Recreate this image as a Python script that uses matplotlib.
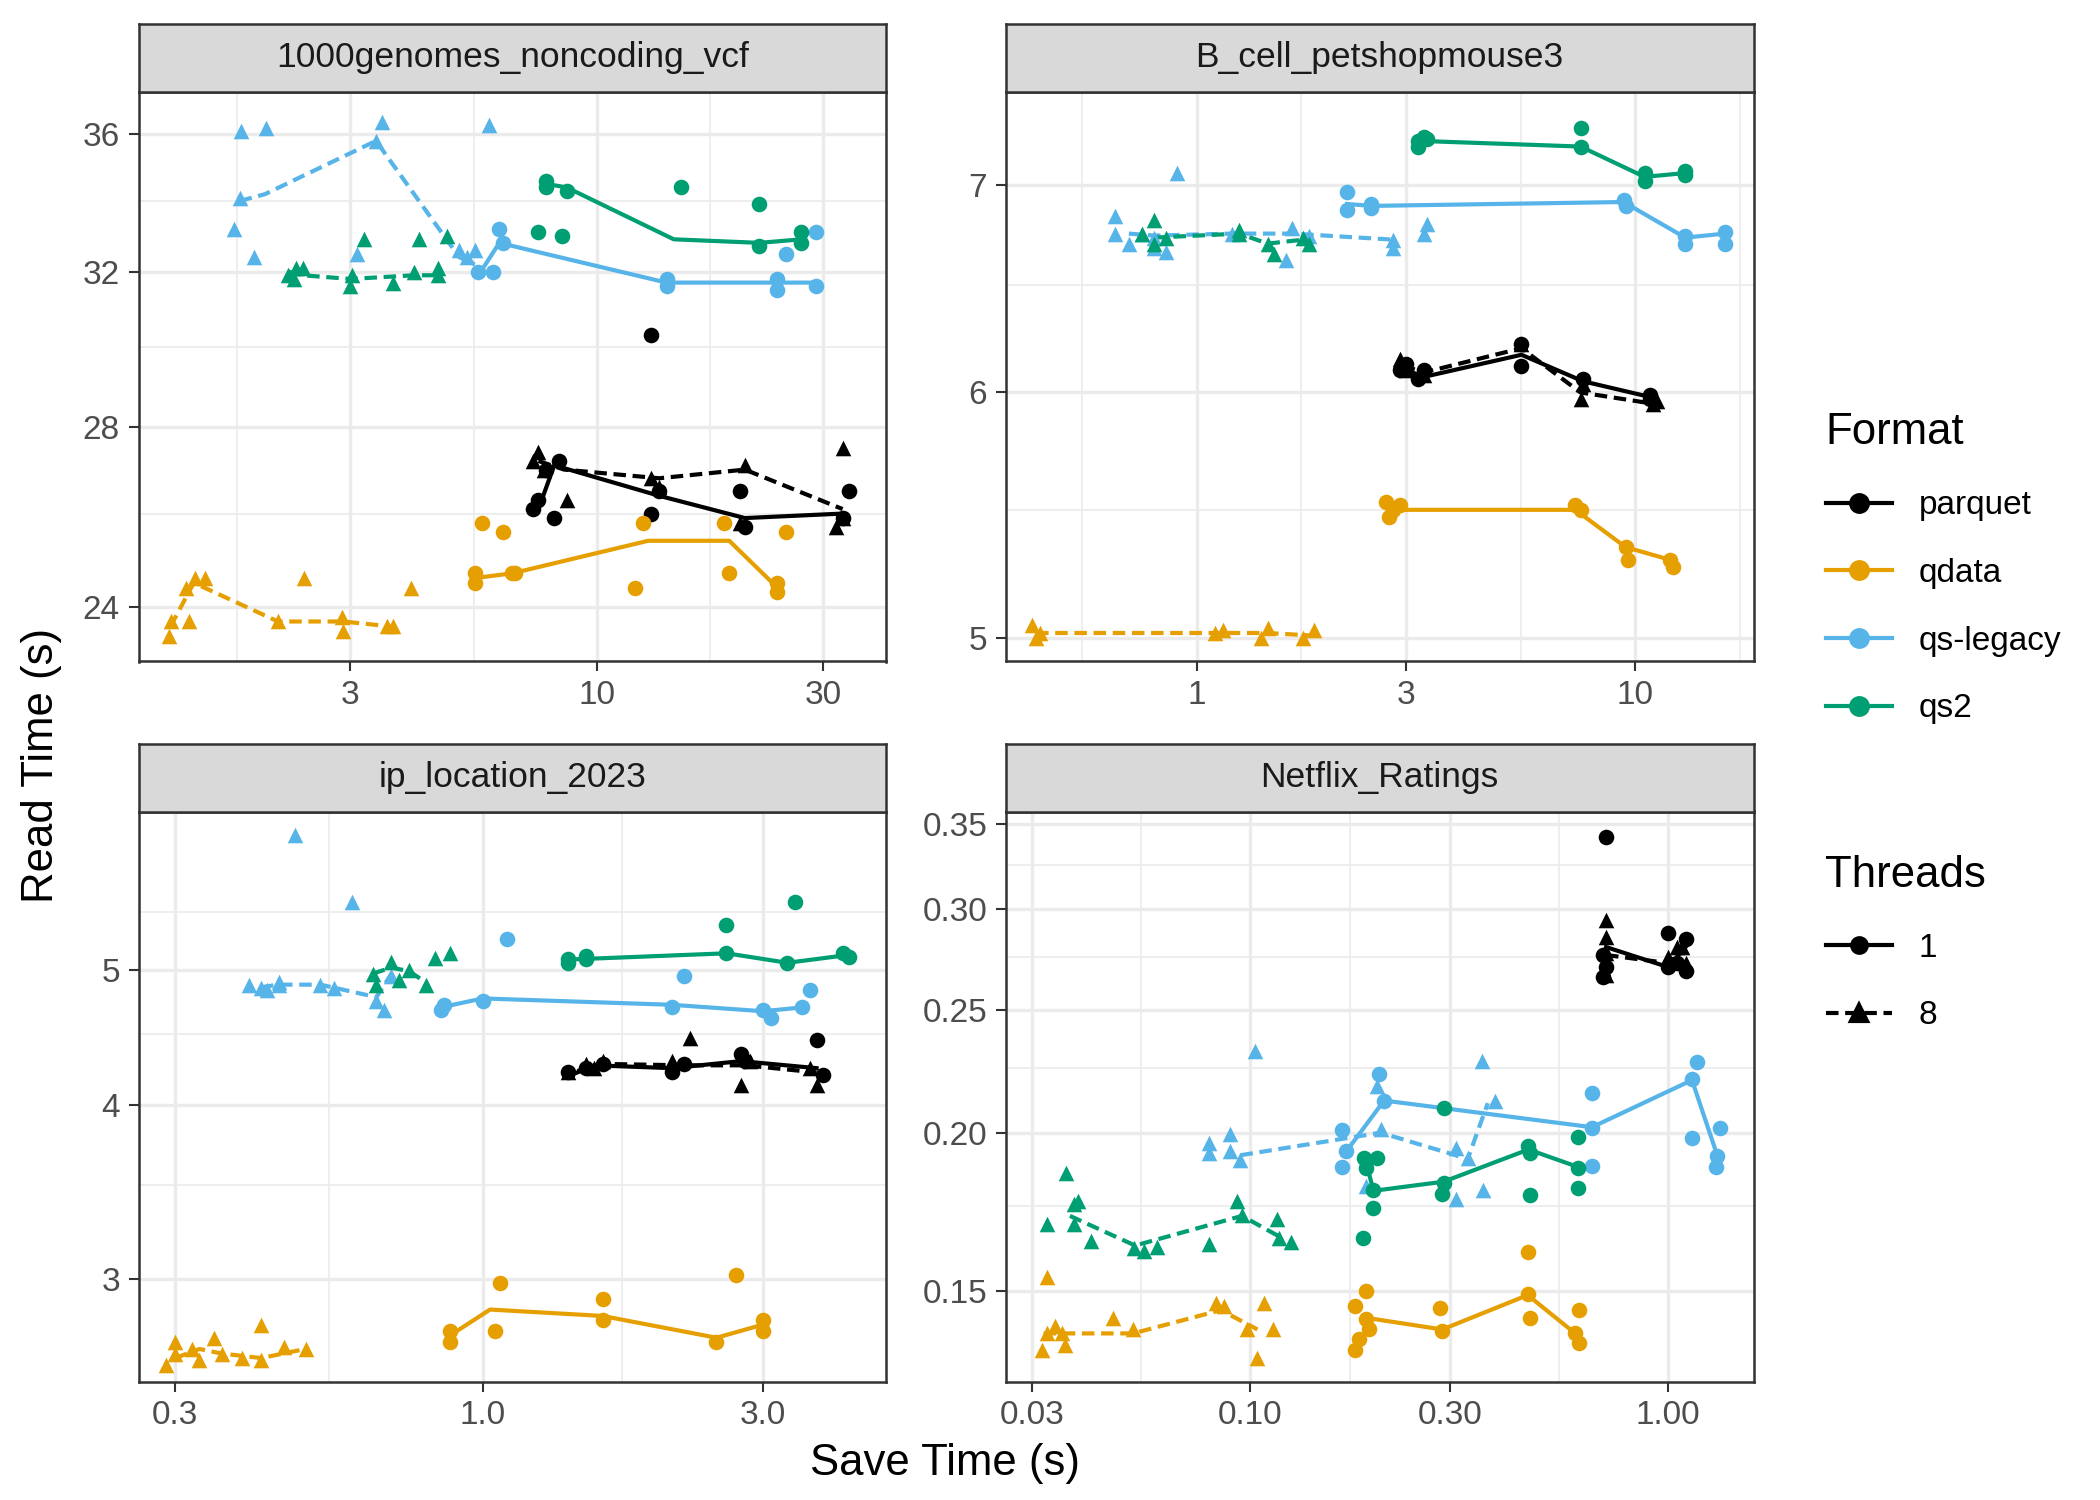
import numpy as np
import matplotlib.pyplot as plt
from matplotlib.lines import Line2D

plt.rcParams['font.family'] = ['Liberation Sans', 'DejaVu Sans']

formats = ['parquet', 'qdata', 'qs-legacy', 'qs2']
colors = {'parquet': '#000000', 'qdata': '#E69F00', 'qs-legacy': '#56B4E9', 'qs2': '#009E73'}
threads = [1, 8]
titles = ['1000genomes_noncoding_vcf', 'B_cell_petshopmouse3', 'ip_location_2023', 'Netflix_Ratings']

# ---------- panel 1: 1000genomes_noncoding_vcf ----------
p1_points = {
    ('qdata', 8): [(1.24,23.4),(1.25,23.7),(1.37,23.7),(1.35,24.4),(1.41,24.6),(1.48,24.6),(2.11,23.7),(2.39,24.6),(2.88,23.8),(2.9,23.5),(3.59,23.6),(3.7,23.6),(4.03,24.4)],
    ('qdata', 1): [(5.5,24.5),(5.5,24.7),(5.7,25.8),(6.3,25.6),(6.6,24.7),(6.7,24.7),(12,24.4),(12.5,25.8),(18.5,25.8),(19,24.7),(24,24.5),(24,24.3),(25,25.6)],
    ('qs-legacy', 8): [(1.7,33.2),(1.75,34.1),(1.76,36.1),(1.88,32.4),(1.99,36.2),(3.1,32.5),(3.4,35.8),(3.5,36.4),(5.3,32.4),(5.5,32.6),(5.9,36.3),(5.1,32.6)],
    ('qs-legacy', 1): [(5.6,32),(6.0,32),(6.2,33.2),(6.3,32.8),(14,31.6),(14,31.8),(24,31.8),(24,31.5),(25,32.5),(29,31.6),(29,33.1)],
    ('qs2', 8): [(2.22,31.9),(2.28,31.8),(2.3,32.1),(2.38,32.1),(3.0,31.6),(3.03,31.9),(3.2,32.9),(3.7,31.7),(4.1,32.0),(4.2,32.9),(4.6,31.9),(4.8,33),(4.6,32.1)],
    ('qs2', 1): [(7.5,33.1),(7.8,34.6),(7.8,34.4),(8.4,33),(8.6,34.3),(15,34.4),(22,33.9),(22,32.7),(27,33.1),(27,32.8)],
    ('parquet', 1): [(7.3,26.1),(7.5,26.3),(7.8,27),(8.1,25.9),(8.3,27.2),(13,30.3),(13,26),(13.5,26.5),(20,26.5),(20.5,25.7),(34,26.5),(33,25.9)],
    ('parquet', 8): [(7.3,27.2),(7.5,27.4),(7.7,27),(8.6,26.3),(13,26.8),(13.5,26.6),(20.5,27.1),(20,25.8),(32,25.7),(33,27.5),(33,25.9)],
}
p1_lines = {
    ('qdata', 8): [(1.25,23.6),(1.4,24.5),(2.11,23.7),(2.9,23.7),(3.65,23.6)],
    ('qdata', 1): [(5.5,24.6),(6.6,24.7),(12.8,25.4),(19,25.4),(24,24.4)],
    ('qs-legacy', 8): [(1.75,34),(1.98,34.2),(3.4,35.8),(5.1,32.4),(5.5,32.2)],
    ('qs-legacy', 1): [(5.6,31.9),(6.2,32.8),(14,31.7),(24,31.7),(29,31.7)],
    ('qs2', 8): [(2.22,32),(2.38,31.9),(3.0,31.8),(4.1,31.9),(4.6,31.9)],
    ('qs2', 1): [(7.8,34.5),(8.6,34.4),(14.5,32.9),(22,32.8),(27,32.9)],
    ('parquet', 1): [(7.5,26.1),(8.1,27.1),(13.5,26.4),(20.5,25.9),(33,26)],
    ('parquet', 8): [(7.5,27.2),(8.5,27),(13.5,26.8),(20.5,27),(33,26.1)],
}
p1_xticks = [3, 10, 30]
p1_xminor = [1.73, 5.48, 17.3]
p1_yticks = [24, 28, 32, 36]
p1_yminor = [22, 26, 30, 34]
p1_xlim = (1.07, 40.8)
p1_ylim = (22.9, 37.35)

# ---------- panel 2: B_cell_petshopmouse3 ----------
p2_points = {
    ('qdata', 8): [(0.42,5.05),(0.43,5.0),(0.44,5.02),(1.1,5.02),(1.15,5.03),(1.4,5.0),(1.45,5.04),(1.75,5.0),(1.85,5.03)],
    ('qdata', 1): [(2.7,5.53),(2.75,5.47),(2.8,5.5),(2.9,5.52),(7.3,5.52),(7.5,5.5),(9.5,5.35),(9.6,5.3),(12,5.3),(12.2,5.27)],
    ('qs-legacy', 8): [(0.65,6.84),(0.65,6.75),(0.7,6.7),(0.75,6.75),(0.8,6.68),(0.8,6.73),(0.85,6.66),(0.9,7.06),(1.2,6.75),(1.6,6.62),(1.65,6.78),(1.8,6.74),(2.8,6.72),(2.8,6.68),(3.3,6.75),(3.35,6.8)],
    ('qs-legacy', 1): [(2.2,6.87),(2.2,6.96),(2.5,6.9),(2.5,6.88),(9.4,6.92),(9.5,6.89),(13,6.74),(13,6.7),(16,6.76),(16,6.7)],
    ('qs2', 8): [(0.75,6.75),(0.8,6.82),(0.8,6.7),(0.85,6.73),(1.25,6.77),(1.25,6.75),(1.45,6.7),(1.5,6.65),(1.75,6.73),(1.8,6.7)],
    ('qs2', 1): [(3.2,7.2),(3.2,7.23),(3.3,7.25),(3.35,7.24),(7.5,7.3),(7.5,7.2),(10.5,7.02),(10.5,7.06),(13,7.05),(13,7.07)],
    ('parquet', 1): [(2.9,6.1),(3.0,6.13),(3.2,6.06),(3.3,6.1),(5.5,6.22),(5.5,6.12),(7.6,6.06),(10.8,5.97),(10.8,5.99)],
    ('parquet', 8): [(2.9,6.15),(3.0,6.1),(3.3,6.08),(5.5,6.22),(7.5,5.97),(7.6,6.04),(11,5.95),(11.2,5.96)],
}
p2_lines = {
    ('qdata', 8): [(0.43,5.02),(1.1,5.02),(1.45,5.02),(1.85,5.01)],
    ('qdata', 1): [(2.8,5.5),(7.3,5.5),(9.5,5.35),(12,5.3)],
    ('qs-legacy', 8): [(0.7,6.75),(0.8,6.74),(1.2,6.75),(1.65,6.75),(2.8,6.72)],
    ('qs-legacy', 1): [(2.2,6.9),(2.5,6.89),(9.4,6.91),(13,6.73),(16,6.75)],
    ('qs2', 8): [(0.8,6.73),(1.25,6.75),(1.45,6.7),(1.75,6.72)],
    ('qs2', 1): [(3.25,7.23),(7.5,7.2),(10.5,7.04),(13,7.06)],
    ('parquet', 1): [(3,6.1),(3.3,6.07),(5.5,6.17),(7.6,6.05),(10.8,5.98)],
    ('parquet', 8): [(2.95,6.12),(3.3,6.09),(5.5,6.2),(7.5,6.0),(11,5.95)],
}
p2_xticks = [1, 3, 10]
p2_xminor = [0.548, 1.73, 5.48, 17.3]
p2_yticks = [5, 6, 7]
p2_yminor = [4.5, 5.5, 6.5, 7.5]
p2_xlim = (0.367, 18.6)
p2_ylim = (4.915, 7.5)

# ---------- panel 3: ip_location_2023 ----------
p3_points = {
    ('qdata', 8): [(0.29,2.6),(0.3,2.65),(0.3,2.7),(0.32,2.67),(0.33,2.62),(0.35,2.72),(0.36,2.65),(0.39,2.63),(0.42,2.62),(0.42,2.78),(0.46,2.68),(0.5,2.67)],
    ('qdata', 1): [(0.88,2.7),(0.88,2.75),(1.05,2.75),(1.07,2.98),(1.6,2.8),(1.6,2.9),(2.5,2.7),(2.7,3.02),(3.0,2.8),(3.0,2.75)],
    ('qs-legacy', 8): [(0.4,4.88),(0.42,4.85),(0.43,4.84),(0.45,4.88),(0.45,4.9),(0.48,6.25),(0.53,4.88),(0.56,4.85),(0.6,5.6),(0.66,4.75),(0.68,4.68),(0.7,4.95)],
    ('qs-legacy', 1): [(0.85,4.68),(0.86,4.72),(1.0,4.75),(1.1,5.26),(2.1,4.7),(2.2,4.95),(3.0,4.68),(3.1,4.62),(3.5,4.7),(3.6,4.84)],
    ('qs2', 8): [(0.65,4.97),(0.66,4.88),(0.7,5.07),(0.72,4.92),(0.75,5.0),(0.8,4.88),(0.83,5.1),(0.88,5.14)],
    ('qs2', 1): [(1.4,5.09),(1.4,5.06),(1.5,5.09),(1.5,5.12),(2.6,5.14),(2.6,5.39),(3.3,5.06),(3.4,5.6),(4.1,5.14),(4.2,5.11)],
    ('parquet', 1): [(1.4,4.22),(1.5,4.25),(1.6,4.28),(2.1,4.22),(2.2,4.28),(2.75,4.35),(2.8,4.3),(3.7,4.45),(3.8,4.2)],
    ('parquet', 8): [(1.4,4.22),(1.5,4.28),(1.55,4.25),(1.6,4.3),(2.1,4.3),(2.25,4.47),(2.75,4.13),(2.85,4.3),(3.6,4.25),(3.7,4.13)],
}
p3_lines = {
    ('qdata', 8): [(0.3,2.63),(0.33,2.67),(0.36,2.65),(0.42,2.63),(0.5,2.67)],
    ('qdata', 1): [(0.88,2.73),(1.03,2.85),(1.6,2.82),(2.5,2.72),(3.0,2.78)],
    ('qs-legacy', 8): [(0.42,4.86),(0.45,4.88),(0.53,4.88),(0.66,4.78),(0.7,4.97)],
    ('qs-legacy', 1): [(0.85,4.7),(1.0,4.77),(2.1,4.72),(3.0,4.67),(3.5,4.7)],
    ('qs2', 8): [(0.65,4.97),(0.7,5.02),(0.75,4.99),(0.8,4.9)],
    ('qs2', 1): [(1.45,5.09),(2.6,5.14),(3.3,5.06),(4.1,5.12)],
    ('parquet', 1): [(1.45,4.22),(1.55,4.27),(2.1,4.25),(2.75,4.3),(3.7,4.25)],
    ('parquet', 8): [(1.45,4.23),(1.6,4.28),(2.2,4.27),(2.8,4.27),(3.7,4.22)],
}
p3_xticks = [0.3, 1.0, 3.0]
p3_xminor = [0.173, 0.548, 1.73, 5.48]
p3_yticks = [3, 4, 5]
p3_yminor = [2.5, 3.5, 4.5, 5.5, 6.5]
p3_xlim = (0.26, 4.86)
p3_ylim = (2.53, 6.5)

# ---------- panel 4: Netflix_Ratings ----------
p4_points = {
    ('qdata', 8): [(0.0318,0.135),(0.0326,0.139),(0.0341,0.141),(0.036,0.136),(0.0355,0.139),(0.0326,0.154),(0.047,0.143),(0.0524,0.14),(0.0828,0.147),(0.0865,0.146),(0.098,0.14),(0.104,0.133),(0.108,0.147),(0.113,0.14)],
    ('qdata', 1): [(0.178,0.135),(0.182,0.1375),(0.178,0.146),(0.189,0.150),(0.189,0.1426),(0.192,0.140),(0.284,0.1456),(0.288,0.1396),(0.461,0.161),(0.461,0.1494),(0.467,0.1429),(0.61,0.145),(0.599,0.139),(0.613,0.1367)],
    ('qs-legacy', 8): [(0.0798,0.1964),(0.0798,0.1926),(0.0893,0.1997),(0.0893,0.1934),(0.0947,0.1903),(0.1027,0.2318),(0.201,0.2175),(0.205,0.2013),(0.189,0.1816),(0.31,0.1945),(0.331,0.191),(0.31,0.1773),(0.358,0.2278),(0.385,0.212),(0.36,0.1802)],
    ('qs-legacy', 1): [(0.166,0.201),(0.169,0.1934),(0.166,0.188),(0.203,0.2223),(0.209,0.212),(0.657,0.2149),(0.657,0.2016),(0.657,0.1884),(1.14,0.2203),(1.17,0.2275),(1.14,0.1981),(1.33,0.2016),(1.31,0.1918),(1.30,0.1881)],
    ('qs2', 8): [(0.0326,0.1694),(0.0363,0.1859),(0.0378,0.1758),(0.0386,0.1766),(0.0378,0.1694),(0.0415,0.1644),(0.0528,0.1623),(0.0557,0.1615),(0.0597,0.1627),(0.0798,0.1636),(0.093,0.1766),(0.0955,0.1723),(0.116,0.1709),(0.117,0.1652),(0.125,0.164)],
    ('qs2', 1): [(0.186,0.1653),(0.187,0.191),(0.189,0.1877),(0.201,0.191),(0.197,0.1802),(0.197,0.1745),(0.290,0.209),(0.290,0.1827),(0.288,0.179),(0.463,0.1953),(0.467,0.1928),(0.467,0.1787),(0.607,0.1985),(0.607,0.1877),(0.608,0.181)],
    ('parquet', 1): [(0.71,0.342),(0.70,0.276),(0.71,0.27),(0.70,0.265),(1.0,0.287),(1.0,0.27),(1.05,0.272),(1.1,0.284),(1.1,0.268)],
    ('parquet', 8): [(0.71,0.294),(0.71,0.285),(0.71,0.277),(0.71,0.266),(1.0,0.275),(1.05,0.28),(1.08,0.28),(1.1,0.272)],
}
p4_lines = {
    ('qdata', 8): [(0.032,0.139),(0.0524,0.139),(0.085,0.145),(0.104,0.140)],
    ('qdata', 1): [(0.189,0.143),(0.288,0.14),(0.461,0.149),(0.599,0.139)],
    ('qs-legacy', 8): [(0.0947,0.192),(0.205,0.200),(0.31,0.192),(0.33,0.19),(0.37,0.211)],
    ('qs-legacy', 1): [(0.169,0.193),(0.209,0.212),(0.657,0.202),(1.14,0.22),(1.31,0.192)],
    ('qs2', 8): [(0.037,0.172),(0.053,0.163),(0.0955,0.172),(0.12,0.165)],
    ('qs2', 1): [(0.189,0.19),(0.197,0.18),(0.29,0.183),(0.463,0.194),(0.607,0.188)],
    ('parquet', 1): [(0.71,0.28),(1.0,0.27),(1.1,0.28)],
    ('parquet', 8): [(0.71,0.276),(1.0,0.272),(1.08,0.278)],
}
p4_xticks = [0.03, 0.10, 0.30, 1.00]
p4_xlabels = ['0.03', '0.10', '0.30', '1.00']
p4_xminor = [0.0548, 0.173, 0.548]
p4_yticks = [0.15, 0.20, 0.25, 0.30, 0.35]
p4_yminor = [0.125, 0.175, 0.225, 0.275, 0.325]
p4_xlim = (0.026, 1.60)
p4_ylim = (0.1274, 0.358)

panels = [
    (p1_points, p1_lines, p1_xticks, [str(t) for t in p1_xticks], p1_xminor, p1_yticks, [str(t) for t in p1_yticks], p1_yminor, p1_xlim, p1_ylim),
    (p2_points, p2_lines, p2_xticks, [str(t) for t in p2_xticks], p2_xminor, p2_yticks, [str(t) for t in p2_yticks], p2_yminor, p2_xlim, p2_ylim),
    (p3_points, p3_lines, p3_xticks, ['0.3', '1.0', '3.0'], p3_xminor, p3_yticks, [str(t) for t in p3_yticks], p3_yminor, p3_xlim, p3_ylim),
    (p4_points, p4_lines, p4_xticks, p4_xlabels, p4_xminor, p4_yticks, ['%.2f' % t for t in p4_yticks], p4_yminor, p4_xlim, p4_ylim),
]

fig = plt.figure(figsize=(7, 5), dpi=300)
lefts = [0.066, 0.479]
width = 0.356
bottoms = [0.559, 0.079]
height = 0.380
strip_h = 0.045

for i, (pts, lns, xt, xl, xm, yt, yl, ym, xlim, ylim) in enumerate(panels):
    col, row = i % 2, i // 2
    ax = fig.add_axes([lefts[col], bottoms[row], width, height])
    ax.set_xscale('log')
    ax.set_yscale('log')
    for x in xm:
        ax.axvline(x, color='#EBEBEB', lw=0.4, zorder=0)
    for y in ym:
        ax.axhline(y, color='#EBEBEB', lw=0.4, zorder=0)
    for x in xt:
        ax.axvline(x, color='#EBEBEB', lw=0.8, zorder=0)
    for y in yt:
        ax.axhline(y, color='#EBEBEB', lw=0.8, zorder=0)
    for f in formats:
        for th in threads:
            c = colors[f]
            p = np.array(pts[(f, th)])
            ax.scatter(p[:, 0], p[:, 1], s=14, color=c, marker='o' if th == 1 else '^',
                       linewidths=0, zorder=3)
            l = np.array(lns[(f, th)])
            ax.plot(l[:, 0], l[:, 1], color=c, lw=1.0, ls='-' if th == 1 else (0, (3, 1.6)), zorder=2)
    ax.set_xlim(*xlim)
    ax.set_ylim(*ylim)
    ax.set_xticks(xt)
    ax.set_xticklabels(xl)
    ax.set_yticks(yt)
    ax.set_yticklabels(yl)
    ax.minorticks_off()
    ax.tick_params(labelsize=8, labelcolor='#4D4D4D', color='#333333', length=2.5, width=0.5, pad=2)
    for s in ax.spines.values():
        s.set_color('#333333')
        s.set_linewidth(0.6)
    sax = fig.add_axes([lefts[col], bottoms[row] + height, width, strip_h])
    sax.set_facecolor('#D9D9D9')
    sax.set_xticks([])
    sax.set_yticks([])
    for s in sax.spines.values():
        s.set_color('#333333')
        s.set_linewidth(0.6)
    sax.text(0.5, 0.5, titles[i], ha='center', va='center', fontsize=8.5, color='#1A1A1A',
             transform=sax.transAxes)

fig.text(0.45, 0.024, 'Save Time (s)', ha='center', va='center', fontsize=10.5)
fig.text(0.02, 0.49, 'Read Time (s)', ha='center', va='center', rotation=90, fontsize=10.5)

fh = [Line2D([], [], color=colors[f], marker='o', markersize=4, lw=1.0) for f in formats]
fig.legend(fh, formats, loc='upper left', bbox_to_anchor=(0.855, 0.745), frameon=False,
           title='Format', fontsize=8, title_fontsize=10.5, handlelength=2.0,
           labelspacing=1.1, alignment='left')
th_h = [Line2D([], [], color='black', marker='o', markersize=3.5, lw=1.0),
        Line2D([], [], color='black', marker='^', markersize=4, lw=1.0, ls=(0, (3, 1.6)))]
fig.legend(th_h, ['1', '8'], loc='upper left', bbox_to_anchor=(0.855, 0.45), frameon=False,
           title='Threads', fontsize=8, title_fontsize=10.5, handlelength=2.0,
           labelspacing=1.1, alignment='left')

fig.savefig('out.png', dpi=300)
